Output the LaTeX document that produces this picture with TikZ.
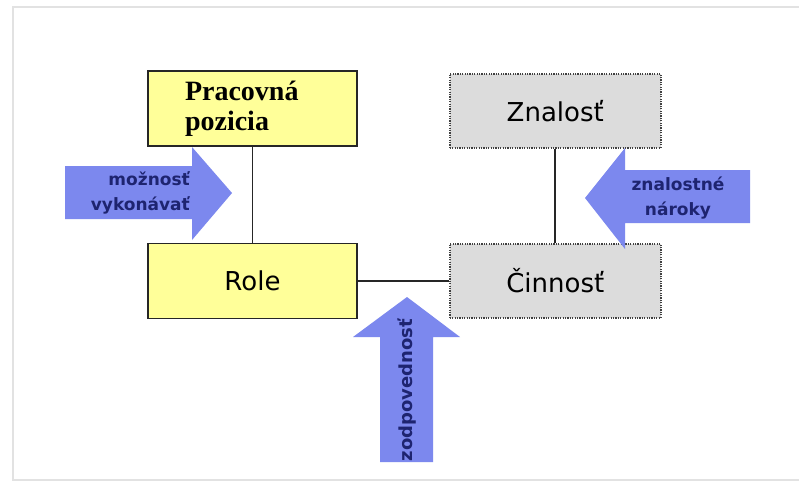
\documentclass[tikz,border=0pt]{standalone}
\usepackage{fontspec}
\setmainfont{DejaVu Sans}
\newfontfamily\serfont{Liberation Serif}
\usepackage{xcolor}
\usetikzlibrary{calc}
\usetikzlibrary{positioning}
\definecolor{boxyellow}{HTML}{FFFF99}
\definecolor{boxgray}{HTML}{DCDCDC}
\definecolor{arrowblue}{HTML}{7C88EE}
\definecolor{labelblue}{HTML}{1E2470}
\definecolor{framegray}{HTML}{E2E2E2}

\begin{document}
\begin{tikzpicture}[x=1pt, y=-1pt, draw=black!80, font=\fontsize{26}{30}\selectfont]
    \tikzstyle{ylw}=[draw=black!85,rectangle,fill=boxyellow,line width=1.5pt,minimum width=209pt,minimum height=75pt,inner sep=0pt]
    \tikzstyle{gry}=[draw=black!75,rectangle,fill=boxgray,dash pattern=on 1.2pt off 1.2pt,line width=2pt,minimum width=211pt,minimum height=74pt,inner sep=0pt]
    \tikzstyle{bigarrow}=[fill=arrowblue]
    \tikzstyle{lbl}=[text=labelblue,font=\bfseries\fontsize{17}{25}\selectfont,inner sep=0pt]
    \tikzstyle{link}=[draw=black!85,line width=1.7pt]

    \useasboundingbox (0,0) rectangle (799,483);
    \fill[white] (0,0) rectangle (799,483);
    \draw[framegray, line width=1.5pt] (799,7) -- (13,7) -- (13,480) -- (799,480);

    \node[ylw, align=left, text width=135pt, inner xsep=37pt] (pos) at (252.5,108.5)
        {\serfont\bfseries\fontsize{28}{32}\selectfont Pracovná\\pozicia};
    \node[ylw, below=96pt of pos] (role) {Role};
    \node[gry, right=91pt of role] (cin) {Činnosť};
    \node[gry, above=94pt of cin] (zna) {Znalosť};

    \draw[link] (pos) -- (role);
    \draw[link] (zna) -- (cin);
    \draw[link] (role) -- (cin);

    %%%%
    \fill[bigarrow] (65,166) -- (192,166) -- (192,147) -- (232,193) -- (192,240) -- (192,219) -- (65,219) -- cycle;
    \node[lbl, align=right, anchor=east] (moz) at (190,193) {možnosť\\vykonávať};

    \fill[bigarrow] (750,170) -- (625,170) -- (625,148) -- (585,198) -- (625,249) -- (625,223) -- (750,223) -- cycle;
    \node[lbl, align=center] (nar) at (678,198) {znalostné\\nároky};

    \fill[bigarrow] (380,462) -- (380,337) -- (353,337) -- (407,297) -- (460,337) -- (433,337) -- (433,462) -- cycle;
    \node[lbl, rotate=90, font=\bfseries\fontsize{18}{22}\selectfont] (zod) at (407,390) {zodpovednosť};

\end{tikzpicture}
\end{document}
